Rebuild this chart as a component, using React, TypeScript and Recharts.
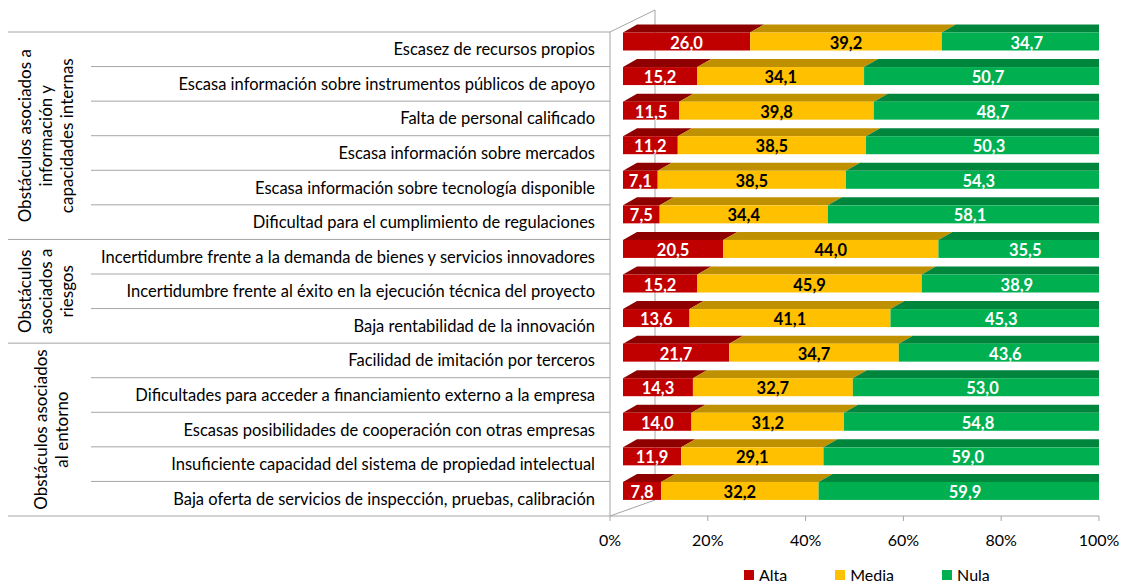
import React from 'react';
import { BarChart, Bar, XAxis, YAxis, LabelList, Customized } from 'recharts';

// ---- data ----
const categories = [
  'Escasez de recursos propios',
  'Escasa información sobre instrumentos públicos de apoyo',
  'Falta de personal calificado',
  'Escasa información sobre mercados',
  'Escasa información sobre tecnología disponible',
  'Dificultad para el cumplimiento de regulaciones',
  'Incertidumbre frente a la demanda de bienes y servicios innovadores',
  'Incertidumbre frente al éxito en la ejecución técnica del proyecto',
  'Baja rentabilidad de la innovación',
  'Facilidad de imitación por terceros',
  'Dificultades para acceder a financiamiento externo a la empresa',
  'Escasas posibilidades de cooperación con otras empresas',
  'Insuficiente capacidad del sistema de propiedad intelectual',
  'Baja oferta de servicios de inspección, pruebas, calibración',
];
const alta = [26.0, 15.2, 11.5, 11.2, 7.1, 7.5, 20.5, 15.2, 13.6, 21.7, 14.3, 14.0, 11.9, 7.8];
const media = [39.2, 34.1, 39.8, 38.5, 38.5, 34.4, 44.0, 45.9, 41.1, 34.7, 32.7, 31.2, 29.1, 32.2];
const nula = [34.7, 50.7, 48.7, 50.3, 54.3, 58.1, 35.5, 38.9, 45.3, 43.6, 53.0, 54.8, 59.0, 59.9];

const groupLabels = [
  ['Obstáculos asociados a', 'información y', 'capacidades internas'],
  ['Obstáculos', 'asociados a', 'riesgos'],
  ['Obstáculos asociados', 'al entorno'],
];
const groupSizes = [6, 3, 5];
const xTicks = [0, 20, 40, 60, 80, 100];

const seriesNames = ['Alta', 'Media', 'Nula'];

const data = categories.map((name, i) => ({ name, alta: alta[i], media: media[i], nula: nula[i] }));

// ---- layout ----
const W = 1124;
const H = 583;
const FONT = 'Lato, "Open Sans", sans-serif';
const X_AXIS_H = 30;
const MARGIN = { top: 32, right: 25, bottom: 67 - X_AXIS_H, left: 0 };
const Y_W = 610;
const PLOT_L = MARGIN.left + Y_W;
const PLOT_B = H - MARGIN.bottom - X_AXIS_H;
const BAND = (PLOT_B - MARGIN.top) / categories.length;
const SHIFT_X = 13; // front face sits right of the back axis
const SHIFT_Y = -7.5;
const DEPTH_X = 14;
const DEPTH_Y = -8;
const GRID = '#A6A6A6';

const COLORS = {
  alta: { front: '#C00000', top: '#8E0000', side: '#7A0000', text: '#fff' },
  media: { front: '#FFC000', top: '#BF9000', side: '#A67C00', text: '#000' },
  nula: { front: '#00B050', top: '#00853C', side: '#006B30', text: '#fff' },
};

const groupStarts = groupSizes.reduce((acc: number[], s, i) => {
  acc.push(i === 0 ? 0 : acc[i - 1] + groupSizes[i - 1]);
  return acc;
}, []);

const make3D = (c: any, last: boolean) => (p: any) => {
  const x = p.x + SHIFT_X;
  const y = p.y + SHIFT_Y;
  const w = p.width;
  const h = p.height;
  if (!w || w <= 0) return <g />;
  return (
    <g>
      <polygon
        points={`${x},${y} ${x + DEPTH_X},${y + DEPTH_Y} ${x + w + DEPTH_X},${y + DEPTH_Y} ${x + w},${y}`}
        fill={c.top}
      />
      {last && (
        <polygon
          points={`${x + w},${y} ${x + w + DEPTH_X},${y + DEPTH_Y} ${x + w + DEPTH_X},${y + h + DEPTH_Y} ${x + w},${y + h}`}
          fill={c.side}
        />
      )}
      <rect x={x} y={y} width={w} height={h} fill={c.front} />
    </g>
  );
};

const valueLabel = (color: string) => (p: any) => {
  const { x, y, width, height, value } = p;
  return (
    <text
      x={x + width / 2 + SHIFT_X}
      y={y + height / 2 + SHIFT_Y + 1}
      textAnchor="middle"
      dominantBaseline="central"
      fill={color}
      fontFamily={FONT}
      fontWeight={700}
      fontSize={16.5}
    >
      {Number(value).toFixed(1).replace('.', ',')}
    </text>
  );
};

const CategoryTick = (p: any) => {
  const { y, payload } = p;
  const idx = categories.indexOf(payload.value);
  const top = y - BAND / 2;
  const g = groupStarts.indexOf(idx);
  const isLast = idx === categories.length - 1;
  return (
    <g>
      <line x1={g >= 0 ? 8 : 91} x2={PLOT_L} y1={top} y2={top} stroke={GRID} />
      {isLast && <line x1={8} x2={PLOT_L} y1={top + BAND} y2={top + BAND} stroke={GRID} />}
      <text x={595} y={y} textAnchor="end" dominantBaseline="central" fill="#000" fontFamily={FONT} fontSize={16.5}>
        {payload.value}
      </text>
      {g >= 0 && (
        <text
          transform={`translate(${groupLabels[g].length === 3 ? 45 : 51}, ${top + (groupSizes[g] * BAND) / 2}) rotate(-90)`}
          textAnchor="middle"
          fill="#000"
          fontFamily={FONT}
          fontSize={17}
        >
          {groupLabels[g].map((line, k) => (
            <tspan key={k} x={0} y={(k - (groupLabels[g].length - 1) / 2) * 21} dominantBaseline="central">
              {line}
            </tspan>
          ))}
        </text>
      )}
    </g>
  );
};

const PercentTick = (p: any) => {
  const { x, payload } = p;
  return (
    <text x={x} y={PLOT_B + 23} textAnchor="middle" dominantBaseline="central" fill="#000" fontFamily={FONT} fontSize={16}>
      {`${payload.value}%`}
    </text>
  );
};

// back wall edges of the 3D frame
const Walls = () => (
  <g stroke={GRID} strokeWidth={1} fill="none">
    <line x1={PLOT_L} y1={MARGIN.top} x2={PLOT_L + 45} y2={MARGIN.top - 22} />
    <line x1={PLOT_L + 45} y1={MARGIN.top - 22} x2={PLOT_L + 45} y2={PLOT_B - 16} />
    <line x1={PLOT_L} y1={PLOT_B} x2={PLOT_L + 45} y2={PLOT_B - 16} />
  </g>
);

const LegendBox = () => (
  <div
    style={{
      position: 'absolute',
      left: 744,
      top: 565,
      display: 'flex',
      gap: 48,
      fontFamily: FONT,
      fontSize: 16,
      lineHeight: '20px',
      color: '#000',
    }}
  >
    {(['alta', 'media', 'nula'] as const).map((k, i) => (
      <div key={k} style={{ display: 'flex', alignItems: 'center', gap: 5 }}>
        <span style={{ width: 10, height: 10, background: COLORS[k].front, display: 'inline-block' }} />
        <span>{seriesNames[i]}</span>
      </div>
    ))}
  </div>
);

export default function App() {
  return (
    <div style={{ position: 'absolute', left: 0, top: 0, width: W, height: H, background: '#fff' }}>
      <BarChart width={W} height={H} data={data} layout="vertical" margin={MARGIN} barCategoryGap={0}>
        <Customized component={Walls} />
        <XAxis
          type="number"
          domain={[0, 100]}
          ticks={xTicks}
          tick={PercentTick}
          height={X_AXIS_H}
          tickSize={5}
          tickLine={{ stroke: GRID }}
          axisLine={{ stroke: GRID }}
          allowDataOverflow
        />
        <YAxis
          type="category"
          dataKey="name"
          width={Y_W}
          tick={CategoryTick}
          tickLine={false}
          axisLine={{ stroke: GRID }}
          interval={0}
        />
        <Bar dataKey="alta" name="Alta" stackId="s" barSize={18} isAnimationActive={false} shape={make3D(COLORS.alta, false)}>
          <LabelList dataKey="alta" content={valueLabel(COLORS.alta.text)} />
        </Bar>
        <Bar dataKey="media" name="Media" stackId="s" barSize={18} isAnimationActive={false} shape={make3D(COLORS.media, false)}>
          <LabelList dataKey="media" content={valueLabel(COLORS.media.text)} />
        </Bar>
        <Bar dataKey="nula" name="Nula" stackId="s" barSize={18} isAnimationActive={false} shape={make3D(COLORS.nula, true)}>
          <LabelList dataKey="nula" content={valueLabel(COLORS.nula.text)} />
        </Bar>
      </BarChart>
      <LegendBox />
    </div>
  );
}
